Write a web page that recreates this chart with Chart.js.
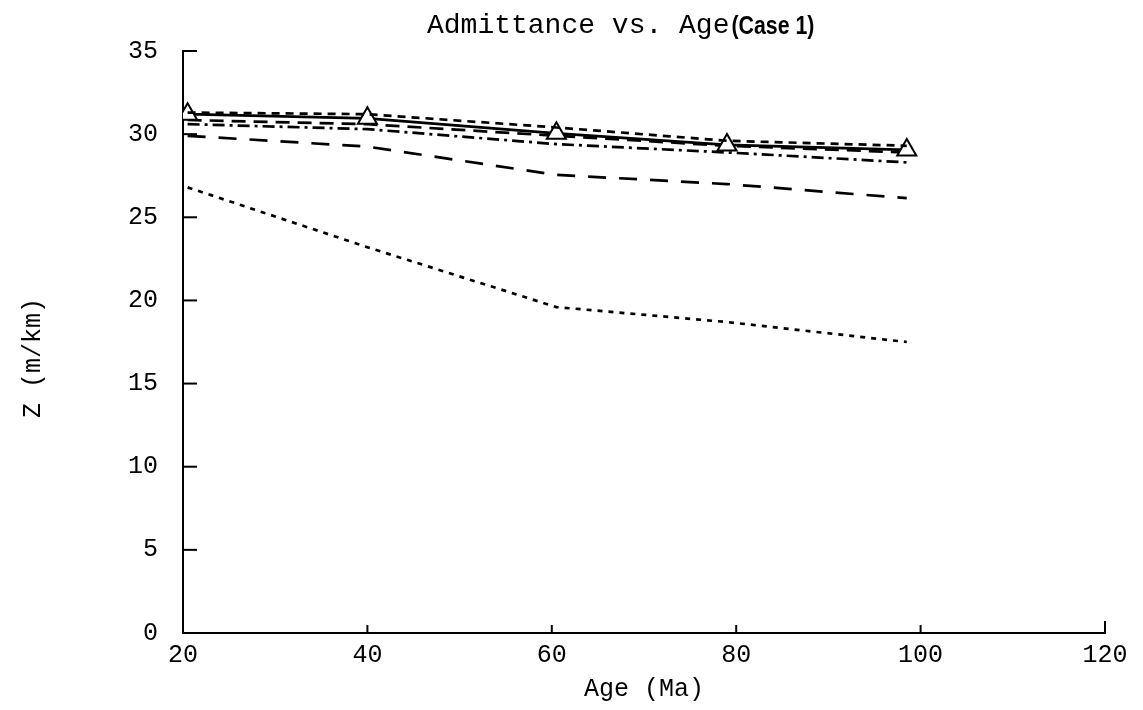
<!DOCTYPE html>
<html lang="en">
<head>
    <meta charset="UTF-8">
    <title>Admittance vs. Age</title>
    <script src="https://cdn.jsdelivr.net/npm/chart.js@4/dist/chart.umd.min.js"></script>
    <style>
        html, body { margin: 0; padding: 0; background: #fff; }
        #wrap { width: 1143px; height: 710px; position: relative; }
    </style>
</head>
<body>
<div id="wrap"><canvas id="myChart"></canvas></div>
<script>
    // ages (Ma) where the curves were computed
    const ages = [20.5, 40, 60.5, 79, 98.5];
    // admittance Z (m/km) for each curve
    const shortDash  = [31.3, 31.2, 30.4, 29.6, 29.3];
    const solidTri   = [31.2, 30.95, 30.05, 29.35, 29.05];
    const mediumDash = [30.85, 30.6, 29.9, 29.3, 28.9];
    const dashDot    = [30.6, 30.3, 29.4, 28.9, 28.3];
    const longDash   = [29.9, 29.25, 27.55, 27.0, 26.15];
    const dotted     = [26.8, 23.2, 19.6, 18.7, 17.5];
    const xTicks = [20, 40, 60, 80, 100, 120];
    const yTicks = [0, 5, 10, 15, 20, 25, 30, 35];

    function pts(values){
        return ages.map((a, i) => ({x: a, y: values[i]}));
    }

    function series(values, dash, extra){
        return Object.assign({
            data: pts(values),
            borderColor: '#000',
            borderWidth: 2.7,
            borderDash: dash,
            pointRadius: 0,
            fill: false,
            tension: 0
        }, extra || {});
    }

    // inward tick marks, y title and the two-font title
    const axisMarks = {
        id: 'axisMarks',
        afterDraw(chart){
            const ctx = chart.ctx;
            const a = chart.chartArea;
            const x = chart.scales.x, y = chart.scales.y;
            ctx.save();
            ctx.strokeStyle = '#000';
            ctx.lineWidth = 2;
            yTicks.forEach(v => {
                if (v === 0) return;
                const py = y.getPixelForValue(v);
                ctx.beginPath();
                ctx.moveTo(a.left, py);
                ctx.lineTo(a.left + 14, py);
                ctx.stroke();
            });
            xTicks.forEach(v => {
                if (v === 20) return;
                const px = x.getPixelForValue(v);
                ctx.beginPath();
                ctx.moveTo(px, a.bottom);
                ctx.lineTo(px, a.bottom - (v === 120 ? 12 : 8));
                ctx.stroke();
            });
            ctx.fillStyle = '#000';
            ctx.textBaseline = 'alphabetic';
            ctx.textAlign = 'left';
            const t1 = 'Admittance vs. Age', t2 = '(Case 1)';
            ctx.font = '28px "Liberation Mono"';
            ctx.fillText(t1, 427, 33);
            const w = ctx.measureText(t1).width;
            ctx.translate(427 + w + 2, 34);
            ctx.scale(0.82, 1);
            ctx.font = 'bold 26px "Liberation Sans"';
            ctx.fillText(t2, 0, 0);
            ctx.restore();

            ctx.save();
            ctx.translate(33, 358);
            ctx.rotate(-Math.PI / 2);
            ctx.textAlign = 'center';
            ctx.textBaseline = 'middle';
            ctx.fillStyle = '#000';
            ctx.font = '25px "Liberation Mono"';
            ctx.fillText('Z (m/km)', 0, 0);
            ctx.restore();
        }
    };

    const tickFont = {family: '"Liberation Mono"', size: 25};

    new Chart('myChart', {
        type: 'line',
        data: {
            datasets: [
                series(shortDash, [8, 6]),
                series(solidTri, [], {
                    pointStyle: 'triangle',
                    pointRadius: 11,
                    pointBorderWidth: 2,
                    pointBorderColor: '#000',
                    pointBackgroundColor: '#fff'
                }),
                series(mediumDash, [14, 8]),
                series(dashDot, [12, 5, 3, 5]),
                series(longDash, [18, 13]),
                series(dotted, [5, 6])
            ]
        },
        options: {
            responsive: true,
            maintainAspectRatio: false,
            animation: false,
            devicePixelRatio: 1,
            layout: {padding: {top: 51, right: 38, left: 0, bottom: 0}},
            plugins: {
                legend: {display: false},
                tooltip: {enabled: false}
            },
            scales: {
                x: {
                    type: 'linear',
                    min: 20,
                    max: 120,
                    afterBuildTicks: s => { s.ticks = xTicks.map(v => ({value: v})); },
                    afterFit: s => { s.height = 77; },
                    grid: {display: false, drawTicks: false},
                    border: {display: true, color: '#000', width: 2},
                    ticks: {color: '#000', font: tickFont, padding: 7, maxRotation: 0},
                    title: {
                        display: true,
                        text: 'Age (Ma)',
                        color: '#000',
                        font: {family: '"Liberation Mono"', size: 25},
                        padding: {top: 4, bottom: 6}
                    }
                },
                y: {
                    min: 0,
                    max: 35,
                    afterBuildTicks: s => { s.ticks = yTicks.map(v => ({value: v})); },
                    afterFit: s => { s.width = 183; },
                    grid: {display: false, drawTicks: false},
                    border: {display: true, color: '#000', width: 2},
                    ticks: {color: '#000', font: tickFont, padding: 25}
                }
            }
        },
        plugins: [axisMarks]
    });
</script>
</body>
</html>
